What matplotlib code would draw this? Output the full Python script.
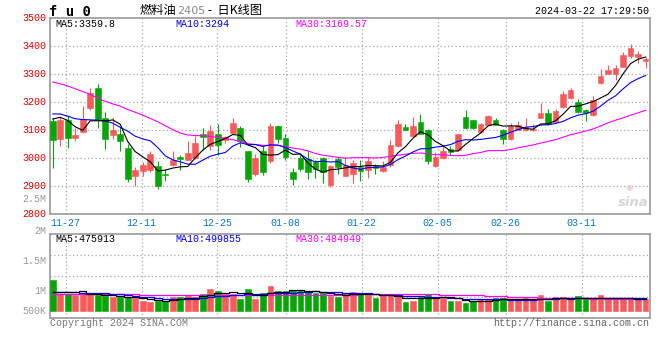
import matplotlib
matplotlib.use("Agg")
import matplotlib.pyplot as plt
import numpy as np
from matplotlib.transforms import ScaledTranslation

plt.rcParams['font.family'] = ['Liberation Mono', 'Noto Sans CJK SC', 'DejaVu Sans']

# ---------------- data ----------------
opens = [3133, 3069, 3138, 3073, 3095, 3179, 3252, 3144, 3083, 3087,
         3038, 2938, 2956, 2957, 2972, 2944, 2974, 3003, 2995, 3000,
         3088, 3044, 3086, 3065, 3089, 3109, 3024, 2944, 3025, 2990,
         3115, 3073, 2950, 3002, 2998, 2985, 3002, 2905, 2996, 2938,
         2944, 2969, 2957, 2972, 2956, 2974, 3042, 3111, 3081, 3130,
         3101, 2972, 3001, 3033, 3029, 3146, 3135, 3093, 3118, 3138,
         3102, 3067, 3102, 3102, 3100, 3145, 3162, 3130, 3183, 3215,
         3201, 3171, 3156, 3269, 3302, 3299, 3326, 3364, 3362, 3348]
highs = [3143, 3146, 3155, 3108, 3187, 3250, 3264, 3165, 3148, 3113,
         3051, 2970, 2988, 3027, 2990, 2961, 3025, 3010, 3062, 3078,
         3108, 3119, 3121, 3080, 3145, 3115, 3026, 3015, 3045, 3127,
         3117, 3087, 2964, 3012, 3030, 2994, 3004, 2975, 3005, 3006,
         2995, 2993, 3005, 2978, 2990, 3065, 3137, 3123, 3146, 3158,
         3103, 3022, 3045, 3043, 3086, 3171, 3137, 3124, 3153, 3142,
         3105, 3126, 3132, 3142, 3121, 3198, 3175, 3175, 3239, 3252,
         3211, 3175, 3221, 3318, 3334, 3334, 3380, 3407, 3383, 3362]
lows = [2966, 3045, 3038, 3062, 3089, 3172, 3109, 3033, 3070, 3024,
        2916, 2902, 2938, 2950, 2889, 2920, 2971, 2957, 2994, 2998,
        3030, 3030, 3012, 3056, 3087, 3040, 2915, 2937, 2940, 2984,
        3054, 2994, 2905, 2955, 2927, 2930, 2913, 2896, 2942, 2935,
        2913, 2920, 2931, 2944, 2952, 2970, 3040, 3099, 3075, 3086,
        2980, 2970, 2998, 3010, 3025, 3105, 3104, 3090, 3117, 3117,
        3052, 3065, 3100, 3096, 3098, 3143, 3120, 3127, 3181, 3213,
        3163, 3134, 3150, 3266, 3300, 3281, 3325, 3359, 3340, 3323]
closes = [3065, 3137, 3073, 3083, 3140, 3234, 3139, 3069, 3102, 3062,
          2926, 2958, 2976, 3015, 2899, 2939, 2995, 2998, 3020, 3056,
          3076, 3098, 3048, 3074, 3127, 3060, 2926, 3002, 2952, 3115,
          3069, 3006, 2926, 2960, 2952, 2961, 2950, 2972, 2970, 2975,
          2982, 2953, 2991, 2966, 2969, 3048, 3122, 3101, 3116, 3087,
          2989, 3006, 3025, 3023, 3085, 3108, 3109, 3123, 3152, 3120,
          3069, 3114, 3117, 3111, 3106, 3162, 3121, 3168, 3229, 3245,
          3166, 3162, 3209, 3293, 3314, 3323, 3368, 3392, 3371, 3353]
volumes = [1251, 666, 666, 639, 707, 666, 639, 598, 544, 544,
           544, 503, 394, 367, 408, 394, 571, 544, 598, 544,
           680, 884, 816, 666, 680, 462, 884, 476, 721, 1006,
           802, 802, 843, 802, 802, 707, 707, 598, 544, 734,
           775, 734, 639, 530, 598, 639, 544, 367, 394, 571,
           680, 544, 530, 394, 394, 326, 394, 476, 476, 530,
           530, 435, 435, 503, 435, 639, 394, 544, 544, 462,
           598, 462, 530, 639, 462, 530, 462, 462, 462, 462]  # thousands

# moving-average values for the days whose window
# starts before the first visible bar
ma5_head = [3140, 3146, 3135, 3112]
ma10_head = [3158, 3158, 3150, 3141, 3138, 3137, 3136, 3134, 3125]
ma30_head = [3272, 3266, 3258, 3248, 3238, 3228, 3214, 3203, 3194, 3186,
             3174, 3164, 3154, 3142, 3130, 3116, 3102, 3090, 3083, 3081,
             3080, 3078, 3074, 3070, 3066, 3060, 3052, 3049, 3046]
vma5_head = [780, 775, 770, 770]
vma10_head = [750, 750, 748, 745, 740, 735, 725, 715, 700]
vma30_head = [700, 698, 695, 692, 690, 688, 685, 682, 678, 674,
              670, 665, 660, 656, 652, 648, 645, 642, 640, 640,
              640, 640, 638, 636, 636, 635, 635, 635, 635]

date_labels = ['11-27', '12-11', '12-25', '01-08', '01-22', '02-05', '02-26', '03-11']
date_index = [2, 12, 22, 31, 41, 51, 60, 70]
price_ticks = [2800, 2900, 3000, 3100, 3200, 3300, 3400, 3500]
vol_axis_labels = ['2.5M', '2M', '1.5M', '1M', '500K']

title_code = 'f u 0'
title_name = '燃料油'
title_contract = '2405'
title_tail = ' -  日K线图'
timestamp = '2024-03-22 17:29:50'
ma_texts = ['MA5:3359.8', 'MA10:3294', 'MA30:3169.57']
vma_texts = ['MA5:475913', 'MA10:499855', 'MA30:484949']


def moving_average(vals, n, head):
    vals = np.asarray(vals, dtype=float)
    out = np.empty(len(vals))
    for j in range(len(vals)):
        if j < n - 1:
            out[j] = head[j]
        else:
            out[j] = vals[j - n + 1:j + 1].mean()
    return out


# ---------------- styling ----------------
W, H = 660, 360
RED = '#f75a5a'
GREEN = '#05a505'
GRID = '#a8a8a8'
SPINE = '#9a9a9a'
TXT = 7.2


def fx(px):
    return px / W


def fy(py):
    return 1 - py / H


fig = plt.figure(figsize=(W / 100, H / 100), dpi=100)
fig.patch.set_facecolor('white')

L, R = 50.5, 650.0
ax = fig.add_axes([fx(L), fy(214.2), (R - L) / W, (214.2 - 18.2) / H])
axv = fig.add_axes([fx(L), fy(317.7), (R - L) / W, (317.7 - 234.3) / H])

n = len(closes)
x = np.arange(n)
xlim = (-0.293, 79.58)

cols = [RED if c >= o else GREEN for o, c in zip(opens, closes)]

# candles
ax.vlines(x, lows, highs, colors=cols, linewidth=0.8, zorder=3)
bottoms = [min(o, c) for o, c in zip(opens, closes)]
heights = [max(abs(c - o), 1.5) for o, c in zip(opens, closes)]
ax.bar(x, heights, bottom=bottoms, width=0.76, color=cols,
       edgecolor=cols, linewidth=0.4, zorder=4)

ma5 = moving_average(closes, 5, ma5_head)
ma10 = moving_average(closes, 10, ma10_head)
ma30 = moving_average(closes, 30, ma30_head)
ax.plot(x, ma30, color='#ff00ff', lw=0.8, zorder=5)
ax.plot(x, ma10, color='#0000ff', lw=0.8, zorder=5)
ax.plot(x, ma5, color='black', lw=0.8, zorder=6)

ax.set_xlim(*xlim)
ax.set_ylim(2800, 3500)

# gridlines (positions follow the chart's own slightly drifting label spacing)
grid_x = [j - 0.292 + 0.011 * j for j in date_index]
for gx in grid_x:
    ax.axvline(gx, color=GRID, lw=0.9, ls=(0, (1, 2)), zorder=1)
    axv.axvline(gx, color=GRID, lw=0.9, ls=(0, (1, 2)), zorder=1)
for p in price_ticks[1:-1]:
    ax.axhline(p, color=GRID, lw=0.9, ls=(0, (1, 2)), zorder=1)

ax.set_yticks(price_ticks)
ax.set_yticklabels([str(p) for p in price_ticks], color='#e00000', fontsize=TXT)
ax.tick_params(axis='y', length=0, pad=3.2)
for lbl in ax.get_yticklabels():
    lbl.set_transform(lbl.get_transform() + ScaledTranslation(0, 1.5 / 100, fig.dpi_scale_trans))
ax.set_xticks(grid_x)
ax.set_xticklabels(date_labels, color='#0a78c8', fontsize=TXT)
ax.tick_params(axis='x', length=0, pad=2.5)

for a in (ax, axv):
    for s in a.spines.values():
        s.set_color(SPINE)
        s.set_linewidth(1.2)
    a.set_facecolor('white')

# volume panel
vol = np.asarray(volumes) * 1000.0
axv.bar(x, vol, width=0.76, color=cols, edgecolor=cols, linewidth=0.4, zorder=3)
vma5 = moving_average(volumes, 5, vma5_head) * 1000
vma10 = moving_average(volumes, 10, vma10_head) * 1000
vma30 = moving_average(volumes, 30, vma30_head) * 1000
axv.plot(x, vma30, color='#ff00ff', lw=0.9, drawstyle='steps-mid', zorder=4)
axv.plot(x, vma10, color='#0000ff', lw=0.9, drawstyle='steps-mid', zorder=4)
axv.plot(x, vma5, color='black', lw=0.9, drawstyle='steps-mid', zorder=5)
vlo, vhi = -286e3, 3117e3
axv.set_xlim(*xlim)
axv.set_ylim(vlo, vhi)
for fr in (0.25, 0.5, 0.75):
    axv.axhline(vlo + (vhi - vlo) * fr, color=GRID, lw=0.9, ls=(0, (1, 2)), zorder=1)
axv.set_xticks([])
axv.set_yticks([])

# ---------------- texts ----------------
fig.text(fx(49), fy(11.5), title_code, fontsize=10, fontweight='bold',
         color='black', va='center', ha='left', family=['DejaVu Sans Mono'])
t1 = fig.text(fx(140), fy(10.5), title_name, fontsize=8.8, color='black', va='center',
              ha='left', family=['Noto Sans CJK SC'])
fig.canvas.draw()
r = fig.canvas.get_renderer()
bb = t1.get_window_extent(r)
t2 = fig.text(bb.x1 / W, fy(11), title_contract, fontsize=8, color='#8a8a8a',
              va='center', ha='left', family=['DejaVu Sans'])
bb2 = t2.get_window_extent(r)
fig.text(bb2.x1 / W, fy(10.5), title_tail, fontsize=8.8, color='black', va='center',
         ha='left', family=['Noto Sans CJK SC', 'DejaVu Sans'])
fig.text(fx(649), fy(11), timestamp, fontsize=TXT, color='black', va='center', ha='right')

for s, px, c in zip(ma_texts, [55, 175, 295], ['black', '#0000ff', '#ff00ff']):
    fig.text(fx(px), fy(24), s, fontsize=TXT, color=c, va='center', ha='left')
for s, px, c in zip(vma_texts, [55, 175, 295], ['black', '#0000ff', '#ff00ff']):
    fig.text(fx(px), fy(238.5), s, fontsize=TXT, color=c, va='center', ha='left')

for s, py in zip(vol_axis_labels, [199, 230.7, 260.7, 290.7, 310.7]):
    fig.text(fx(46), fy(py), s, fontsize=TXT, color='#999999', va='center', ha='right')

fig.text(fx(50), fy(323.5), 'Copyright 2024 SINA.COM', fontsize=TXT, color='#777777',
         va='center', ha='left')
fig.text(fx(649), fy(323.5), 'http://finance.sina.com.cn', fontsize=TXT, color='#666666',
         va='center', ha='right')

# sina watermark
fig.text(fx(633), fy(202), 'sina', fontsize=9.5, color='#d5d5d5', fontweight='bold',
         fontstyle='italic', va='center', ha='center', family=['DejaVu Sans'])
fig.text(fx(629), fy(187.5), '◉', fontsize=6, color='#f3c8c8', va='center', ha='center',
         family=['DejaVu Sans'])

fig.savefig('out.png', dpi=100, facecolor='white')
